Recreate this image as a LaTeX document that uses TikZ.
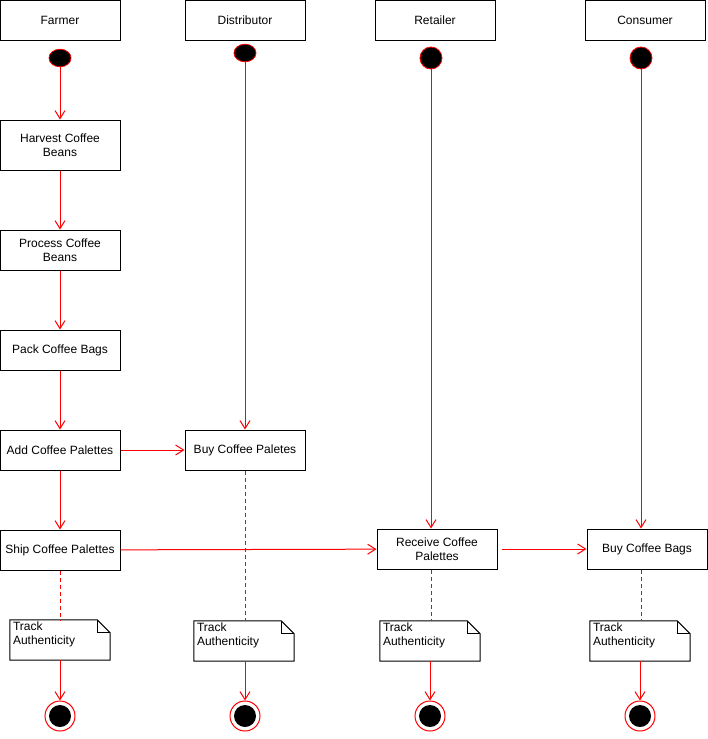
\documentclass[tikz,border=0pt]{standalone}
\usepackage{fontspec}
\setmainfont{Liberation Sans}
\usetikzlibrary{arrows.meta}
\begin{document}
\begin{tikzpicture}[x=1pt,y=-1pt,
  font=\fontsize{12}{14}\selectfont,
  box/.style={draw=black,line width=1pt,fill=white,minimum width=120pt,minimum height=40pt,inner sep=1pt,align=center},
  notebox/.style={draw=none,minimum width=100pt,minimum height=40pt,inner sep=0pt},
  flow/.style={draw=red,line width=1pt,-{Straight Barb[length=8pt,width=10pt,line width=1pt]}},
  dashline/.style={draw=red,line width=1pt,dash pattern=on 4pt off 3pt},
  endouter/.style={draw=red,fill=white,circle,line width=1pt,minimum size=30pt,inner sep=0pt},
  enddot/.style={fill=black,circle,minimum size=22pt,inner sep=0pt},
  notetext/.style={anchor=north west,align=left,inner sep=0pt,font=\fontsize{12}{14}\selectfont}
]
\useasboundingbox (0,0) rectangle (708,739);
% headers
\node[box] (hf) at (60,20) {Farmer};
\node[box] (hd) at (245,20) {Distributor};
\node[box] (hr) at (435,20) {Retailer};
\node[box] (hc) at (645,20) {Consumer};
% start dots
\node[draw=red,fill=black,line width=0.8pt,inner sep=0pt,minimum size=22pt,shape=circle,yscale=0.8] (sf) at (60,58) {};
\node[draw=red,fill=black,line width=0.8pt,inner sep=0pt,minimum size=22pt,shape=circle,yscale=0.8] (sd) at (245,53) {};
\node[draw=red,fill=black,circle,line width=0.8pt,inner sep=0pt,minimum size=22pt] (sr) at (431,58) {};
\node[draw=red,fill=black,circle,line width=0.8pt,inner sep=0pt,minimum size=22pt] (sc) at (641,58) {};
% actions
\node[box,minimum height=50pt] (harvest) at (60,145) {Harvest Coffee\\Beans};
\node[box] (process) at (60,250) {Process Coffee\\Beans};
\node[box] (pack) at (60,350) {Pack Coffee Bags};
\node[box] (add) at (60,450) {Add Coffee Palettes};
\node[box] (ship) at (60,550) {Ship Coffee Palettes};
\node[box] (buyp) at (245,450) {Buy Coffee Paletes};
\node[box] (recv) at (437,549) {Receive Coffee\\Palettes};
\node[box] (buyb) at (647,549) {Buy Coffee Bags};
% notes
\foreach \n/\cx/\cy in {nf/60/640, nd/244/641, nr/430/641, nc/640/641}{
  \node[notebox] (\n) at (\cx,\cy) {};
  \draw[black,line width=1pt,fill=white] (\n.north west) -- ([xshift=-13pt]\n.north east) -- ([yshift=-13pt]\n.north east) -- (\n.south east) -- (\n.south west) -- cycle;
  \draw[black,line width=0.8pt] ([xshift=-13pt]\n.north east) -- ([xshift=-13pt,yshift=-13pt]\n.north east) -- ([yshift=-13pt]\n.north east);
  \node[notetext] (\n t) at ([xshift=3pt,yshift=-2pt]\n.north west) {Track\\Authenticity};
}
% end nodes
\foreach \n/\cx in {ef/60, ed/245, er/430, ec/640}{
  \node[endouter] (\n) at (\cx,716) {};
  \node[enddot] (\n i) at (\cx,716) {};
}
% farmer flow
\draw[flow] (sf) -- (harvest);
\draw[flow] (harvest) -- (process);
\draw[flow] (process) -- (pack);
\draw[flow] (pack) -- (add);
\draw[flow] (add) -- (ship);
\draw[flow] (add) -- (buyp);
\draw[flow] (ship) -- (recv);
\draw[flow] ([xshift=4pt]recv.east) -- (buyb);
% lifelines
\draw[flow] (sd) -- (buyp);
\draw[flow] (sr) -- (recv.north -| sr);
\draw[flow] (sc) -- (buyb.north -| sc);
% dashed to notes
\draw[dashline] (ship.south) -- (nf.north -| ship.south);
\draw[dashline] (buyp.south) -- (nd.north -| buyp.south);
\draw[dashline] (recv.south -| sr) -- (nr.north -| sr);
\draw[dashline] (buyb.south -| sc) -- (nc.north -| sc);
% notes to end
\draw[flow] (nf.south -| ef) -- (ef);
\draw[flow] (nd.south -| ed) -- (ed);
\draw[flow] (nr.south -| er) -- (er);
\draw[flow] (nc.south -| ec) -- (ec);
\end{tikzpicture}
\end{document}
